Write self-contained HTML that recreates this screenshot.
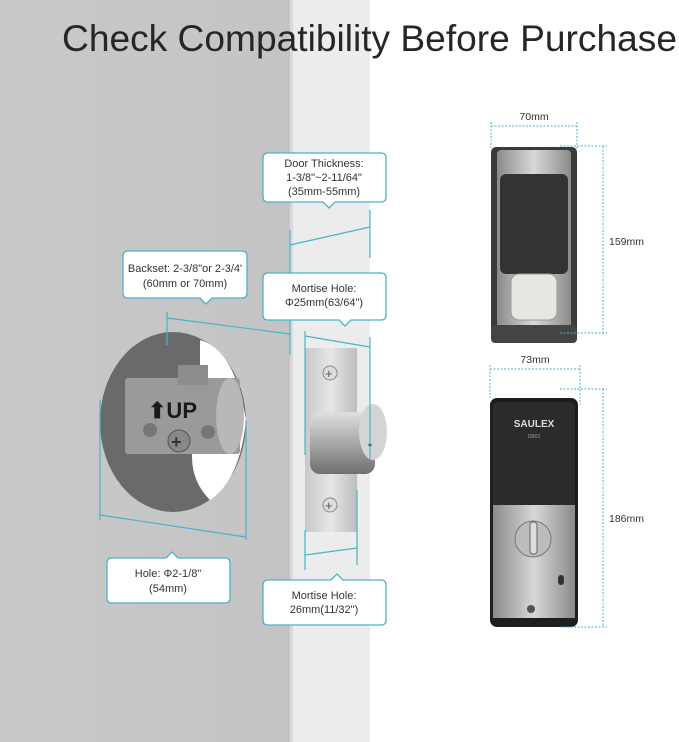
<!DOCTYPE html>
<html><head><meta charset="utf-8"><style>
html,body{margin:0;padding:0;width:679px;height:742px;overflow:hidden;background:#fff;font-family:"Liberation Sans",sans-serif}
</style></head><body>
<svg width="679" height="742" viewBox="0 0 679 742" xmlns="http://www.w3.org/2000/svg" font-family="Liberation Sans, sans-serif">
<defs>
<linearGradient id="wall" x1="0" x2="1"><stop offset="0" stop-color="#c9c9c9"/><stop offset="1" stop-color="#c4c4c4"/></linearGradient>
<linearGradient id="silver" x1="0" x2="1"><stop offset="0" stop-color="#c8c8c8"/><stop offset="0.5" stop-color="#e6e6e6"/><stop offset="1" stop-color="#bdbdbd"/></linearGradient>
<linearGradient id="bolt" x1="0" y1="0" x2="0" y2="1"><stop offset="0" stop-color="#e0e0e0"/><stop offset="0.5" stop-color="#a8a8a8"/><stop offset="1" stop-color="#6f6f6f"/></linearGradient>
<linearGradient id="lock1" x1="0" x2="1"><stop offset="0" stop-color="#8a8a8a"/><stop offset="0.5" stop-color="#d8d8d8"/><stop offset="1" stop-color="#8a8a8a"/></linearGradient>
</defs>
<rect x="0" y="0" width="290" height="742" fill="url(#wall)"/>
<rect x="290" y="0" width="80" height="742" fill="#ececec"/>
<rect x="290" y="0" width="3" height="742" fill="#dadada"/>
<text x="62" y="51" font-size="37" fill="#262626" textLength="615" lengthAdjust="spacingAndGlyphs">Check Compatibility Before Purchase</text>

<!-- hole -->
<ellipse cx="173" cy="422" rx="73" ry="90" fill="#6a6a6a"/>
<path d="M200 340 Q 235 350 246 420 Q 240 480 210 500 Q 180 470 200 420 Z" fill="#fff"/>
<rect x="125" y="378" width="115" height="76" rx="3" fill="#9a9a9a"/>
<rect x="178" y="365" width="30" height="20" fill="#8c8c8c"/>
<ellipse cx="230" cy="416" rx="14" ry="38" fill="#b8b8b8"/>
<text x="148" y="418" font-size="22" font-weight="bold" fill="#1a1a1a">⬆UP</text>
<circle cx="150" cy="430" r="7" fill="#777"/><circle cx="208" cy="432" r="7" fill="#777"/>
<circle cx="179" cy="441" r="11" fill="#888" stroke="#555"/>
<text x="171" y="448" font-size="18" font-weight="bold" fill="#333">+</text>

<!-- strike plate -->
<rect x="305" y="348" width="52" height="184" fill="url(#silver)"/>
<circle cx="330" cy="373" r="7" fill="#ddd" stroke="#888"/><text x="325" y="378" font-size="13" fill="#555">+</text>
<circle cx="330" cy="505" r="7" fill="#ddd" stroke="#888"/><text x="325" y="510" font-size="13" fill="#555">+</text>
<rect x="310" y="412" width="65" height="62" rx="10" fill="url(#bolt)"/>
<ellipse cx="373" cy="432" rx="14" ry="28" fill="#d4d4d4"/>
<circle cx="370" cy="445" r="1.5" fill="#222"/>

<!-- measurement lines -->
<g stroke="#4ab3c8" stroke-width="1.2" fill="none">
<line x1="290" y1="245" x2="370" y2="227"/><line x1="290" y1="230" x2="290" y2="355"/><line x1="370" y1="210" x2="370" y2="258"/>
<line x1="167" y1="318" x2="290" y2="334"/><line x1="167" y1="312" x2="167" y2="345"/>
<line x1="305" y1="336" x2="370" y2="347"/><line x1="305" y1="331" x2="305" y2="455"/><line x1="370" y1="337" x2="370" y2="460"/>
<line x1="100" y1="515" x2="246" y2="537"/><line x1="100" y1="400" x2="100" y2="520"/><line x1="246" y1="420" x2="246" y2="540"/>
<line x1="305" y1="555" x2="357" y2="548"/><line x1="305" y1="530" x2="305" y2="570"/><line x1="357" y1="490" x2="357" y2="565"/>
</g>

<!-- callouts -->
<g fill="#fff" stroke="#4ab3c8" stroke-width="1.3">
<path d="M268 153 H381 Q386 153 386 158 V197 Q386 202 381 202 H335 L329 208 L323 202 H268 Q263 202 263 197 V158 Q263 153 268 153Z"/>
<path d="M128 251 H242 Q247 251 247 256 V293 Q247 298 242 298 H212 L206 304 L200 298 H128 Q123 298 123 293 V256 Q123 251 128 251Z"/>
<path d="M268 273 H381 Q386 273 386 278 V315 Q386 320 381 320 H351 L345 326 L339 320 H268 Q263 320 263 315 V278 Q263 273 268 273Z"/>
<path d="M112 558 H166 L172 552 L178 558 H225 Q230 558 230 563 V598 Q230 603 225 603 H112 Q107 603 107 598 V563 Q107 558 112 558Z"/>
<path d="M268 580 H331 L337 574 L343 580 H381 Q386 580 386 585 V620 Q386 625 381 625 H268 Q263 625 263 620 V585 Q263 580 268 580Z"/>
</g>
<g font-size="11" fill="#333" text-anchor="middle">
<text x="324" y="167">Door Thickness:</text><text x="324" y="181">1-3/8"~2-11/64"</text><text x="324" y="195">(35mm-55mm)</text>
<text x="185" y="272">Backset: 2-3/8"or 2-3/4'</text><text x="185" y="287">(60mm or 70mm)</text>
<text x="324" y="292">Mortise Hole:</text><text x="324" y="306">Φ25mm(63/64")</text>
<text x="168" y="577">Hole: Φ2-1/8"</text><text x="168" y="592">(54mm)</text>
<text x="324" y="599">Mortise Hole:</text><text x="324" y="613">26mm(11/32")</text>
</g>

<!-- front lock -->
<rect x="491" y="147" width="86" height="196" rx="5" fill="#3a3a3a"/>
<rect x="497" y="150" width="74" height="180" rx="4" fill="url(#lock1)"/>
<rect x="500" y="174" width="68" height="100" rx="6" fill="#333"/>
<rect x="511" y="274" width="46" height="46" rx="8" fill="#e8e6e2" stroke="#999"/>
<rect x="491" y="325" width="86" height="18" rx="4" fill="#444"/>
<!-- back lock -->
<rect x="490" y="398" width="88" height="229" rx="7" fill="#1e1e1e"/>
<rect x="493" y="402" width="82" height="110" rx="5" fill="#2b2b2b"/>
<text x="534" y="427" font-size="10" font-weight="bold" fill="#ddd" text-anchor="middle">SAULEX</text>
<text x="534" y="438" font-size="5" fill="#999" text-anchor="middle">DB02</text>
<rect x="493" y="505" width="82" height="113" fill="url(#lock1)"/>
<circle cx="533" cy="539" r="18" fill="#bcbcbc" stroke="#777"/>
<rect x="530" y="522" width="7" height="32" rx="3" fill="#ddd" stroke="#666"/>
<rect x="558" y="575" width="6" height="10" rx="3" fill="#333"/>
<circle cx="531" cy="609" r="4" fill="#555"/>

<g stroke="#4ab3c8" stroke-width="1" stroke-dasharray="2,1.5" fill="none">
<line x1="491" y1="126" x2="577" y2="126"/><line x1="491" y1="122" x2="491" y2="148"/><line x1="577" y1="122" x2="577" y2="150"/>
<line x1="560" y1="146" x2="607" y2="146"/><line x1="560" y1="333" x2="607" y2="333"/><line x1="603" y1="146" x2="603" y2="333"/>
<line x1="490" y1="369" x2="580" y2="369"/><line x1="490" y1="365" x2="490" y2="398"/><line x1="580" y1="365" x2="580" y2="405"/>
<line x1="560" y1="389" x2="607" y2="389"/><line x1="560" y1="627" x2="607" y2="627"/><line x1="603" y1="389" x2="603" y2="627"/>
</g>
<g font-size="10.5" fill="#333">
<text x="534" y="120" text-anchor="middle">70mm</text>
<text x="609" y="245">159mm</text>
<text x="535" y="363" text-anchor="middle">73mm</text>
<text x="609" y="522">186mm</text>
</g>
</svg>
</body></html>
